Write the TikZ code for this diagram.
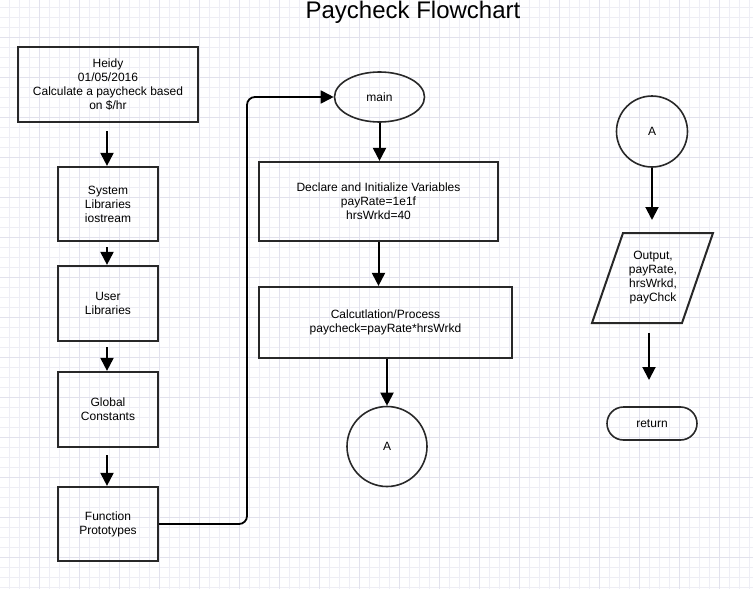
\documentclass[tikz,border=0pt]{standalone}
\usepackage{fontspec}
\setmainfont{Liberation Sans}
\usetikzlibrary{arrows.meta,shapes.geometric}
\definecolor{gridminor}{RGB}{238,238,245}
\definecolor{gridmajor}{RGB}{226,226,237}
\definecolor{boxline}{RGB}{40,40,40}
\tikzset{
  box/.style={draw=boxline,line width=2.2pt,rectangle,align=center,inner sep=0pt,
    font=\fontsize{12}{14}\selectfont},
  thin shape/.style={draw=boxline,line width=1.6pt,align=center,inner sep=0pt,
    font=\fontsize{12}{14}\selectfont},
  arr/.style={draw=black,line width=2pt,-{Triangle[length=13pt,width=13pt]}},
  conn/.style={draw=black,line width=1.8pt,rounded corners=8pt,-{Triangle[length=13pt,width=13pt]}},
  lbl/.style={align=center,inner sep=0pt,font=\fontsize{12}{14}\selectfont}
}
\begin{document}
\begin{tikzpicture}[x=1pt,y=-1pt]
\useasboundingbox (0,0) rectangle (753,589);
\fill[white] (0,0) rectangle (753,589);
% grid
\foreach \gx in {9,19,...,749} {\draw[gridminor,line width=0.8pt] (\gx,0) -- (\gx,589);}
\foreach \gy in {7,17,...,587} {\draw[gridminor,line width=0.8pt] (0,\gy) -- (753,\gy);}
\foreach \gx in {39,79,...,749} {\draw[gridmajor,line width=0.8pt] (\gx,0) -- (\gx,589);}
\foreach \gy in {37,77,...,587} {\draw[gridmajor,line width=0.8pt] (0,\gy) -- (753,\gy);}

% title
\node[anchor=base,inner sep=0pt,font=\fontsize{24}{27}\selectfont] (title) at (413,19) {Paycheck Flowchart};

% left column
\node[box,minimum width=180pt,minimum height=75pt] (b1) at (108,84.5) {Heidy\\01/05/2016\\Calculate a paycheck based\\on \$/hr};
\node[box,minimum width=100pt,minimum height=74pt] (b2) at (108,204) {System\\Libraries\\iostream};
\node[box,minimum width=100pt,minimum height=75pt] (b3) at (108,303.5) {User\\Libraries};
\node[box,minimum width=100pt,minimum height=75pt] (b4) at (108,409.5) {Global\\Constants};
\node[box,minimum width=100pt,minimum height=74pt] (b5) at (108,524) {Function\\Prototypes};

% middle column
\node[thin shape,ellipse,minimum width=90pt,minimum height=50pt] (main) at (379.5,97) {main};
\node[box,minimum width=239pt,minimum height=79pt] (b6) at (378.5,201.5) {Declare and Initialize Variables\\payRate=1e1f\\hrsWrkd=40};
\node[box,minimum width=253pt,minimum height=71pt] (b7) at (385.5,322.5) {Calcutlation/Process\\paycheck=payRate*hrsWrkd};
\node[thin shape,circle,minimum size=80pt] (a1) at (387,446.5) {A};

% right column
\node[thin shape,circle,minimum size=71pt] (a2) at (652,131.5) {A};
\draw[boxline,line width=2pt] (623,233) -- (713,233) -- (682,323) -- (592,323) -- cycle;
\node[lbl] (out) at (653,277.5) {Output,\\payRate,\\hrsWrkd,\\payChck};
\node[thin shape,rectangle,rounded corners=16.5pt,minimum width=90pt,minimum height=33pt] (ret) at (652,423.5) {return};

% arrow end points
\coordinate (s1) at (107,131);
\coordinate (s2) at (107,247);
\coordinate (s3) at (107,347);
\coordinate (s4) at (107,455);
\coordinate (bend) at (247,97);
\coordinate (ea2) at (652,220);
\coordinate (sout) at (649,333);
\coordinate (eout) at (649,380);

\draw[arr] (s1) -- (s1 |- b2.north);
\draw[arr] (s2) -- (s2 |- b3.north);
\draw[arr] (s3) -- (s3 |- b4.north);
\draw[arr] (s4) -- (s4 |- b5.north);
\draw[conn] (b5.east) -| (bend) -- (main.west);
\draw[arr] (main.south) -- (main.south |- b6.north);
\draw[arr] (b6.south) -- (b6.south |- b7.north);
\draw[arr] (a1.north |- b7.south) -- (a1.north);
\draw[arr] (a2.south) -- (ea2);
\draw[arr] (sout) -- (eout);
\end{tikzpicture}
\end{document}
